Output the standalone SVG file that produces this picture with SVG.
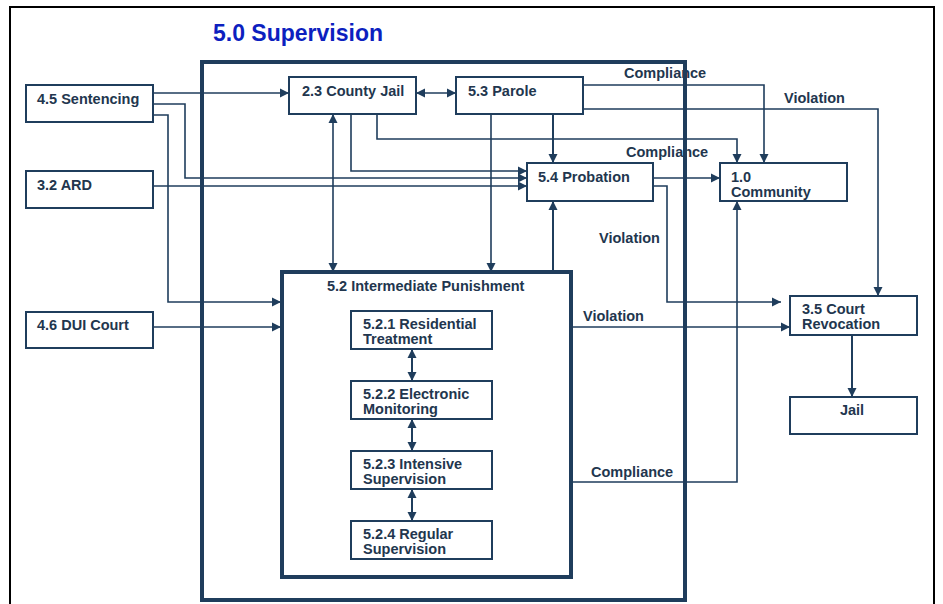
<svg xmlns="http://www.w3.org/2000/svg" width="943" height="604" viewBox="0 0 943 604">
<defs>
<marker id="ah" markerWidth="10" markerHeight="10" refX="9" refY="5" orient="auto" markerUnits="userSpaceOnUse"><path d="M0,0.5 L9,5 L0,9.5 Z" fill="#1f3d5c"/></marker>
<marker id="as" markerWidth="10" markerHeight="10" refX="1" refY="5" orient="auto" markerUnits="userSpaceOnUse"><path d="M10,0.5 L1,5 L10,9.5 Z" fill="#1f3d5c"/></marker>
<style>
.box{fill:#fff;stroke:#1f3d5c;stroke-width:2}
.thick{fill:none;stroke:#1f3d5c;stroke-width:4}
.t{font-family:"Liberation Sans",Arial,sans-serif;font-weight:bold;font-size:14.5px;fill:#22364e}
.lbl{font-family:"Liberation Sans",Arial,sans-serif;font-weight:bold;font-size:14.5px;fill:#22364e}
.c{fill:none;stroke:#1f3d5c;stroke-width:1.6}
.c2{fill:none;stroke:#1f3d5c;stroke-width:2}
</style>
</defs>
<rect x="0" y="0" width="943" height="604" fill="#fff"/>
<rect x="10" y="7" width="924" height="610" fill="none" stroke="#000" stroke-width="2"/>
<text x="213" y="41" font-family="'Liberation Sans',Arial,sans-serif" font-weight="bold" font-size="23" fill="#0d1fbf">5.0 Supervision</text>

<g id="connectors">
<path class="c" d="M153,93 H289" marker-end="url(#ah)"/>
<path class="c" d="M416,93 H456" marker-start="url(#as)" marker-end="url(#ah)"/>
<path class="c" d="M151,104 H185 V178 H527" marker-end="url(#ah)"/>
<path class="c" d="M153,115 H168 V302 H281" marker-end="url(#ah)"/>
<path class="c" d="M153,186 H527" marker-end="url(#ah)"/>
<path class="c" d="M151,327 H281" marker-end="url(#ah)"/>
<path class="c" d="M351,114 V171 H527" marker-end="url(#ah)"/>
<path class="c" d="M377,114 V139 H737 V163" marker-end="url(#ah)"/>
<path class="c" d="M333,114 V272" marker-start="url(#as)" marker-end="url(#ah)"/>
<path class="c" d="M491,114 V272" marker-end="url(#ah)"/>
<path class="c2" d="M553,114 V163" marker-end="url(#ah)"/>
<path class="c2" d="M553,272 V201" marker-end="url(#ah)"/>
<path class="c" d="M579,85 H764 V163" marker-end="url(#ah)"/>
<path class="c" d="M579,109 H878 V296" marker-end="url(#ah)"/>
<path class="c" d="M653,178 H720" marker-end="url(#ah)"/>
<path class="c" d="M649,186 H667 V302 H781" marker-end="url(#ah)"/>
<path class="c" d="M571,327 H790" marker-end="url(#ah)"/>
<path class="c" d="M571,482 H737 V201" marker-end="url(#ah)"/>
<path class="c2" d="M852,335 V397" marker-end="url(#ah)"/>
<path class="c2" d="M412,349 V381" marker-start="url(#as)" marker-end="url(#ah)"/>
<path class="c2" d="M412,419 V451" marker-start="url(#as)" marker-end="url(#ah)"/>
<path class="c2" d="M412,489 V521" marker-start="url(#as)" marker-end="url(#ah)"/>
<text class="lbl" x="624" y="78">Compliance</text>
<text class="lbl" x="784" y="103">Violation</text>
<text class="lbl" x="626" y="157">Compliance</text>
<text class="lbl" x="599" y="243">Violation</text>
<text class="lbl" x="583" y="321">Violation</text>
<text class="lbl" x="591" y="477">Compliance</text>
</g>

<g id="n5-0"><rect class="thick" x="202" y="62" width="483" height="538"/></g>

<g id="n4-5"><rect class="box" x="26" y="85" width="127" height="37"/><text class="t" x="37" y="104">4.5 Sentencing</text></g>
<g id="n3-2"><rect class="box" x="26" y="171" width="127" height="37"/><text class="t" x="37" y="190">3.2 ARD</text></g>
<g id="n4-6"><rect class="box" x="26" y="312" width="127" height="36"/><text class="t" x="37" y="330">4.6 DUI Court</text></g>
<g id="n2-3"><rect class="box" x="289" y="77" width="127" height="37"/><text class="t" x="302" y="96">2.3 County Jail</text></g>
<g id="n5-3"><rect class="box" x="456" y="77" width="127" height="37"/><text class="t" x="468" y="96">5.3 Parole</text></g>
<g id="n5-4"><rect class="box" x="527" y="163" width="126" height="38"/><text class="t" x="538" y="182">5.4 Probation</text></g>
<g id="n1-0"><rect class="box" x="720" y="163" width="127" height="38"/><text class="t" x="731" y="182">1.0</text><text class="t" x="731" y="197">Community</text></g>
<g id="n3-5"><rect class="box" x="790" y="296" width="127" height="39"/><text class="t" x="802" y="314">3.5 Court</text><text class="t" x="802" y="329">Revocation</text></g>
<g id="jail"><rect class="box" x="790" y="397" width="127" height="37"/><text class="t" x="852" y="415" text-anchor="middle">Jail</text></g>

<g id="n5-2"><rect class="thick" x="282" y="272" width="289" height="305" fill="#fff"/><text class="t" x="327" y="291">5.2 Intermediate Punishment</text></g>
<g id="n5-2-1"><rect class="box" x="351" y="311" width="141" height="38"/><text class="t" x="363" y="329">5.2.1 Residential</text><text class="t" x="363" y="344">Treatment</text></g>
<g id="n5-2-2"><rect class="box" x="351" y="381" width="141" height="38"/><text class="t" x="363" y="399">5.2.2 Electronic</text><text class="t" x="363" y="414">Monitoring</text></g>
<g id="n5-2-3"><rect class="box" x="351" y="451" width="141" height="38"/><text class="t" x="363" y="469">5.2.3 Intensive</text><text class="t" x="363" y="484">Supervision</text></g>
<g id="n5-2-4"><rect class="box" x="351" y="521" width="141" height="38"/><text class="t" x="363" y="539">5.2.4 Regular</text><text class="t" x="363" y="554">Supervision</text></g>
</svg>
